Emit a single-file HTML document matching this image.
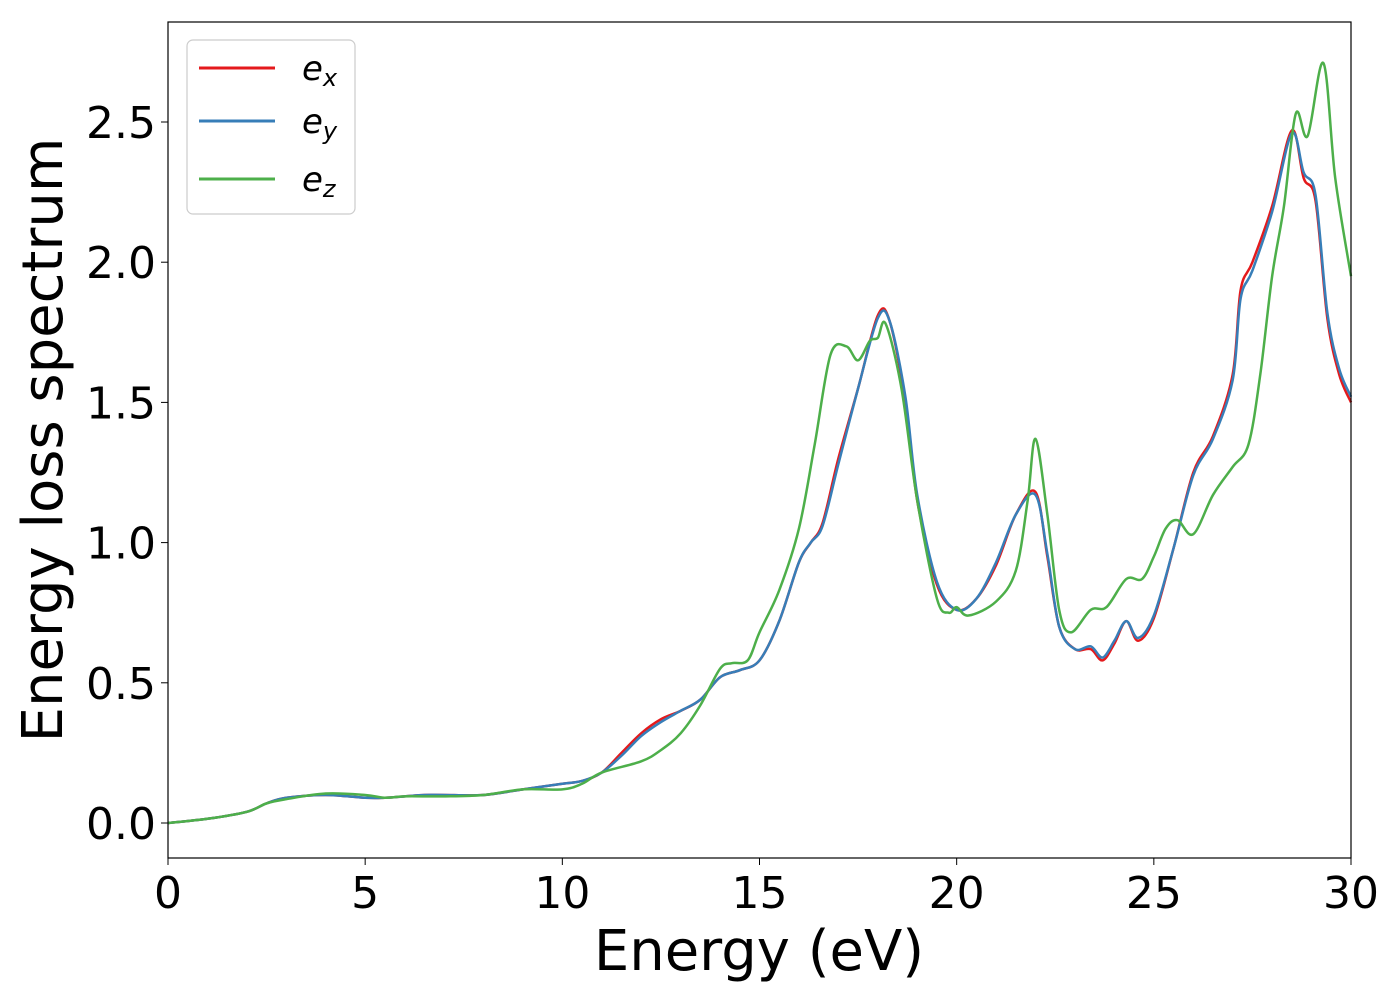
<!DOCTYPE html>
<html><head><meta charset="utf-8"><style>
body{margin:0;background:#fff;}
svg text{font-family:"DejaVu Sans","Liberation Sans",sans-serif;fill:#000;}
</style></head><body>
<svg id="chart" width="1400" height="1000" xmlns="http://www.w3.org/2000/svg">
<rect width="1400" height="1000" fill="#fff"/>
<g id="plot"></g>
<rect x="168" y="22" width="1183" height="836" fill="none" stroke="#000" stroke-width="1.2"/>
<g id="xticks"></g><g id="yticks"></g>
<text x="759" y="970" font-size="56" text-anchor="middle">Energy (eV)</text>
<text transform="translate(62,440) rotate(-90)" font-size="56" text-anchor="middle">Energy loss spectrum</text>
<g>
<rect x="187" y="40" width="168" height="174" rx="6" fill="#fff" stroke="#ccc" stroke-width="1.2"/>
<line x1="199" y1="68" x2="275" y2="68" stroke="#e41a1c" stroke-width="3"/>
<text x="302" y="80" font-size="34" font-style="italic">e<tspan font-size="24" dy="6">x</tspan></text>
<line x1="199" y1="121" x2="275" y2="121" stroke="#377eb8" stroke-width="3"/>
<text x="302" y="133" font-size="34" font-style="italic">e<tspan font-size="24" dy="6">y</tspan></text>
<line x1="199" y1="179" x2="275" y2="179" stroke="#4daf4a" stroke-width="3"/>
<text x="302" y="191" font-size="34" font-style="italic">e<tspan font-size="24" dy="6">z</tspan></text>
</g>
</svg>
<script>
const xTicks=[0,5,10,15,20,25,30];
const yTicks=[0.0,0.5,1.0,1.5,2.0,2.5];
const exE=[0,1,2,2.5,3,4,5,5.5,6,6.5,7,8,9,10,10.5,11,11.5,12,12.5,13,13.5,14,14.5,15,15.5,16,16.3,16.6,17,17.5,18,18.3,18.7,19,19.5,20,20.5,21,21.5,22,22.3,22.6,23,23.4,23.7,24,24.3,24.6,25,25.5,26,26.5,27,27.2,27.5,28,28.5,28.8,29.1,29.4,29.7,30];
const exV=[0,0.015,0.04,0.07,0.09,0.1,0.09,0.09,0.095,0.1,0.1,0.1,0.12,0.14,0.15,0.18,0.25,0.32,0.37,0.4,0.44,0.52,0.545,0.58,0.72,0.93,1.0,1.07,1.3,1.55,1.81,1.79,1.5,1.15,0.85,0.76,0.8,0.92,1.1,1.18,0.95,0.7,0.62,0.62,0.58,0.64,0.72,0.65,0.73,0.98,1.25,1.38,1.6,1.9,2.0,2.2,2.47,2.3,2.22,1.8,1.6,1.5];
const eyV=[0,0.015,0.04,0.07,0.09,0.1,0.09,0.09,0.095,0.1,0.1,0.1,0.12,0.14,0.15,0.18,0.24,0.31,0.36,0.4,0.44,0.52,0.545,0.58,0.72,0.93,1.0,1.06,1.28,1.55,1.8,1.79,1.52,1.17,0.86,0.76,0.8,0.93,1.1,1.17,0.96,0.7,0.62,0.63,0.59,0.65,0.72,0.66,0.74,0.98,1.24,1.37,1.58,1.87,1.97,2.18,2.46,2.32,2.24,1.82,1.62,1.52];
const ezE=[0,1,2,2.5,3,4,5,5.5,6,7,8,9,10,10.5,11,12,12.5,13,13.5,14,14.3,14.7,15,15.5,16,16.4,16.8,17.2,17.5,17.8,18,18.2,18.6,19,19.5,19.8,20,20.3,21,21.5,21.8,22,22.3,22.6,22.9,23.4,23.8,24.3,24.7,25,25.3,25.6,26,26.5,27,27.4,27.7,28,28.3,28.6,28.9,29.3,29.6,30];
const ezV=[0,0.015,0.04,0.07,0.085,0.105,0.1,0.09,0.095,0.095,0.1,0.12,0.12,0.14,0.18,0.22,0.26,0.32,0.42,0.55,0.57,0.58,0.68,0.83,1.05,1.35,1.67,1.7,1.65,1.72,1.73,1.78,1.55,1.15,0.8,0.75,0.77,0.74,0.79,0.9,1.15,1.37,1.1,0.76,0.68,0.76,0.77,0.87,0.87,0.95,1.05,1.08,1.03,1.17,1.27,1.35,1.6,1.95,2.2,2.53,2.45,2.71,2.3,1.95];
const X=v=>168+v*(1183/30), Y=v=>823-v*(701/2.5);
const NS="http://www.w3.org/2000/svg";
function path(xs,ys,color,name){
  const p=xs.map((x,i)=>[X(x),Y(ys[i])]);
  let d=`M${p[0][0]},${p[0][1]}`;
  for(let i=0;i<p.length-1;i++){
    const p0=p[i-1]||p[i],p1=p[i],p2=p[i+1],p3=p[i+2]||p2;
    d+=` C${p1[0]+(p2[0]-p0[0])/6},${p1[1]+(p2[1]-p0[1])/6} ${p2[0]-(p3[0]-p1[0])/6},${p2[1]-(p3[1]-p1[1])/6} ${p2[0]},${p2[1]}`;
  }
  const el=document.createElementNS(NS,'path');
  el.setAttribute('d',d);el.setAttribute('fill','none');el.setAttribute('stroke',color);el.setAttribute('stroke-width','2.5');
  
  
  document.getElementById('plot').appendChild(el);
}
path(exE,exV,'#e41a1c','series-ex');
path(exE,eyV,'#377eb8','series-ey');
path(ezE,ezV,'#4daf4a','series-ez');
const xt=document.getElementById('xticks');
xTicks.forEach(t=>{
  const l=document.createElementNS(NS,'line');
  l.setAttribute('x1',X(t));l.setAttribute('x2',X(t));l.setAttribute('y1',858);l.setAttribute('y2',865);l.setAttribute('stroke','#000');
  
  
  xt.appendChild(l);
  const s=document.createElementNS(NS,'text');
  s.setAttribute('x',X(t));s.setAttribute('y',908);s.setAttribute('font-size','44');s.setAttribute('text-anchor','middle');
  s.textContent=t;
  
  
  xt.appendChild(s);
});
const yt=document.getElementById('yticks');
yTicks.forEach(t=>{
  const l=document.createElementNS(NS,'line');
  l.setAttribute('x1',161);l.setAttribute('x2',168);l.setAttribute('y1',Y(t));l.setAttribute('y2',Y(t));l.setAttribute('stroke','#000');
  
  
  yt.appendChild(l);
  const s=document.createElementNS(NS,'text');
  s.setAttribute('x',156);s.setAttribute('y',Y(t)+16);s.setAttribute('font-size','44');s.setAttribute('text-anchor','end');
  s.textContent=t.toFixed(1);
  
  
  yt.appendChild(s);
});
</script>
</body></html>
